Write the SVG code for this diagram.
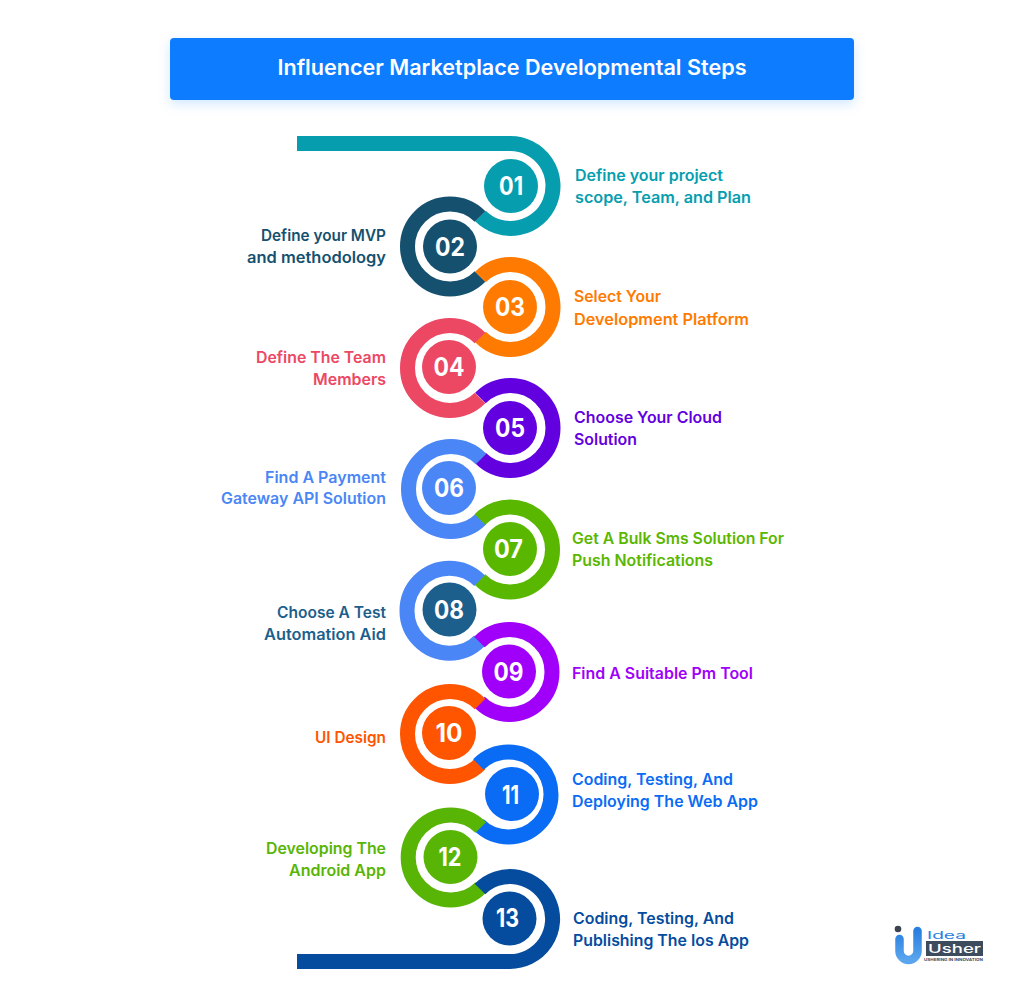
<svg xmlns="http://www.w3.org/2000/svg" width="1024" height="1002" viewBox="0 0 1024 1002">
<style>
text{font-family:"Inter","Open Sans","Liberation Sans",sans-serif}
.r{fill:none;stroke-width:15}
.n{font-size:25px;font-weight:700;fill:#fff;text-anchor:middle}
.l{font-size:15.500px;font-weight:600;transform:translateY(0.8px)}
.e{text-anchor:end}
</style>
<defs><filter id="sh" x="-5%" y="-30%" width="110%" height="170%"><feDropShadow dx="0" dy="4" stdDeviation="6" flood-color="#0a7cff" flood-opacity="0.18"/></filter>
<linearGradient id="lg" x1="0" y1="0" x2="0" y2="1"><stop offset="0" stop-color="#2a7fe0"/><stop offset="1" stop-color="#5aa5ee"/></linearGradient></defs>
<rect width="1024" height="1002" fill="#fff"/>
<g id="title"><rect x="170" y="38" width="684" height="62" rx="4" fill="#0a7cff" filter="url(#sh)"/>
<text x="512" y="75" text-anchor="middle" font-size="21" font-weight="600" fill="#fff" textLength="469" lengthAdjust="spacingAndGlyphs">Influencer Marketplace Developmental Steps</text></g>
<g id="connectors">
<path class="r" stroke="#069eaf" d="M297 143.500H510.500A42.500 42.500 0 1 1 480.450 216.050"/>
<path class="r" stroke="#16506f" d="M480.050 216.450A42.500 42.500 0 1 0 480.050 276.550"/>
<path class="r" stroke="#ff7a00" d="M480.450 276.950A42.500 42.500 0 1 1 480.450 337.050"/>
<path class="r" stroke="#ec4763" d="M480.050 337.950A42.500 42.500 0 1 0 480.050 398.050"/>
<path class="r" stroke="#6200e0" d="M480.450 397.950A42.500 42.500 0 1 1 480.450 458.050"/>
<path class="r" stroke="#4a86f5" d="M481.050 458.950A42.500 42.500 0 1 0 481.050 519.050"/>
<path class="r" stroke="#5ab700" d="M479.950 519.450A42.500 42.500 0 1 1 479.950 579.550"/>
<path class="r" stroke="#4a86f5" d="M479.550 580.650A42.500 42.500 0 1 0 479.550 640.750"/>
<path class="r" stroke="#a000fa" d="M479.450 641.950A42.500 42.500 0 1 1 479.450 702.050"/>
<path class="r" stroke="#ff5400" d="M480.050 703.950A42.500 42.500 0 1 0 480.050 764.050"/>
<path class="r" stroke="#0a6cf5" d="M478.450 764.450A42.500 42.500 0 1 1 478.450 824.550"/>
<path class="r" stroke="#58b505" d="M480.750 827.450A42.500 42.500 0 1 0 480.750 887.550"/>
<path class="r" stroke="#054c9e" d="M480 889A42.500 42.500 0 1 1 510 961.500H297"/>
</g>
<g id="node01" fill="#069eaf"><circle cx="511" cy="186" r="27"/><text class="n" x="511" y="195" textLength="24" lengthAdjust="spacingAndGlyphs">01</text><text class="l" x="575" y="180" textLength="148" lengthAdjust="spacingAndGlyphs">Define your project</text><text class="l" x="575" y="202" textLength="176" lengthAdjust="spacingAndGlyphs">scope, Team, and Plan</text></g>
<g id="node02" fill="#16506f"><circle cx="450" cy="246.500" r="27"/><text class="n" x="450" y="255.500" textLength="30" lengthAdjust="spacingAndGlyphs">02</text><text class="l e" x="386" y="240" textLength="125" lengthAdjust="spacingAndGlyphs">Define your MVP</text><text class="l e" x="386" y="262" textLength="139" lengthAdjust="spacingAndGlyphs">and methodology</text></g>
<g id="node03" fill="#ff7a00"><circle cx="510" cy="307" r="27"/><text class="n" x="510" y="316" textLength="30" lengthAdjust="spacingAndGlyphs">03</text><text class="l" x="574" y="301" textLength="87" lengthAdjust="spacingAndGlyphs">Select Your</text><text class="l" x="574" y="324" textLength="175" lengthAdjust="spacingAndGlyphs">Development Platform</text></g>
<g id="node04" fill="#ec4763"><circle cx="449" cy="367" r="27"/><text class="n" x="449" y="376" textLength="31" lengthAdjust="spacingAndGlyphs">04</text><text class="l e" x="386" y="362" textLength="130" lengthAdjust="spacingAndGlyphs">Define The Team</text><text class="l e" x="386" y="384" textLength="73" lengthAdjust="spacingAndGlyphs">Members</text></g>
<g id="node05" fill="#6200e0"><circle cx="510" cy="428" r="27"/><text class="n" x="510" y="437" textLength="30" lengthAdjust="spacingAndGlyphs">05</text><text class="l" x="574" y="422" textLength="148" lengthAdjust="spacingAndGlyphs">Choose Your Cloud</text><text class="l" x="574" y="444" textLength="63" lengthAdjust="spacingAndGlyphs">Solution</text></g>
<g id="node06" fill="#4a86f5"><circle cx="449" cy="488" r="27"/><text class="n" x="449" y="497" textLength="30" lengthAdjust="spacingAndGlyphs">06</text><text class="l e" x="386" y="482" textLength="121" lengthAdjust="spacingAndGlyphs">Find A Payment</text><text class="l e" x="386" y="503" textLength="165" lengthAdjust="spacingAndGlyphs">Gateway API Solution</text></g>
<g id="node07" fill="#5ab700"><circle cx="510" cy="549" r="27"/><text class="n" x="508.500" y="558" textLength="29" lengthAdjust="spacingAndGlyphs">07</text><text class="l" x="572" y="543" textLength="212" lengthAdjust="spacingAndGlyphs">Get A Bulk Sms Solution For</text><text class="l" x="572" y="565" textLength="141" lengthAdjust="spacingAndGlyphs">Push Notifications</text></g>
<g id="node08" fill="#1c5f8c"><circle cx="449.500" cy="609.500" r="27"/><text class="n" x="449" y="618.500" textLength="30" lengthAdjust="spacingAndGlyphs">08</text><text class="l e" x="386" y="617" textLength="109" lengthAdjust="spacingAndGlyphs">Choose A Test</text><text class="l e" x="386" y="639" textLength="122" lengthAdjust="spacingAndGlyphs">Automation Aid</text></g>
<g id="node09" fill="#a000fa"><circle cx="509" cy="671.500" r="27"/><text class="n" x="508.500" y="680.500" textLength="30" lengthAdjust="spacingAndGlyphs">09</text><text class="l" x="572" y="678" textLength="181" lengthAdjust="spacingAndGlyphs">Find A Suitable Pm Tool</text></g>
<g id="node10" fill="#ff5400"><circle cx="449" cy="733" r="27"/><text class="n" x="449" y="742" textLength="27" lengthAdjust="spacingAndGlyphs">10</text><text class="l e" x="386" y="742" textLength="71" lengthAdjust="spacingAndGlyphs">UI Design</text></g>
<g id="node11" fill="#0a6cf5"><circle cx="512" cy="794" r="27"/><text class="n" x="510.500" y="803.500" textLength="17" lengthAdjust="spacingAndGlyphs">11</text><text class="l" x="572" y="784" textLength="161" lengthAdjust="spacingAndGlyphs">Coding, Testing, And</text><text class="l" x="572" y="806" textLength="186" lengthAdjust="spacingAndGlyphs">Deploying The Web App</text></g>
<g id="node12" fill="#58b505"><circle cx="450.500" cy="857" r="27"/><text class="n" x="450" y="866" textLength="23" lengthAdjust="spacingAndGlyphs">12</text><text class="l e" x="386" y="853" textLength="120" lengthAdjust="spacingAndGlyphs">Developing The</text><text class="l e" x="386" y="875" textLength="97" lengthAdjust="spacingAndGlyphs">Android App</text></g>
<g id="node13" fill="#054c9e"><circle cx="509.500" cy="918.500" r="27"/><text class="n" x="507.500" y="927" textLength="23" lengthAdjust="spacingAndGlyphs">13</text><text class="l" x="573" y="923" textLength="161" lengthAdjust="spacingAndGlyphs">Coding, Testing, And</text><text class="l" x="573" y="945" textLength="176" lengthAdjust="spacingAndGlyphs">Publishing The Ios App</text></g>
<g id="logo">
<circle cx="898" cy="929" r="3.300" fill="#3d4450"/>
<path d="M899.500 939V951A9 9 0 0 0 917.500 951V931" fill="none" stroke="url(#lg)" stroke-width="8.500" stroke-linecap="round"/>
<text x="927" y="938.500" font-size="10" fill="#2a7fe0" textLength="39" lengthAdjust="spacingAndGlyphs">Idea</text>
<rect x="926" y="941" width="57" height="15" fill="#3d4c5c"/>
<text x="928" y="953" font-size="12" font-weight="500" fill="#fff" textLength="53" lengthAdjust="spacingAndGlyphs">Usher</text>
<text x="924" y="960.500" font-size="3.500" font-weight="700" fill="#3d4c5c" textLength="59" lengthAdjust="spacingAndGlyphs">USHERING IN INNOVATION</text>
</g>
</svg>
